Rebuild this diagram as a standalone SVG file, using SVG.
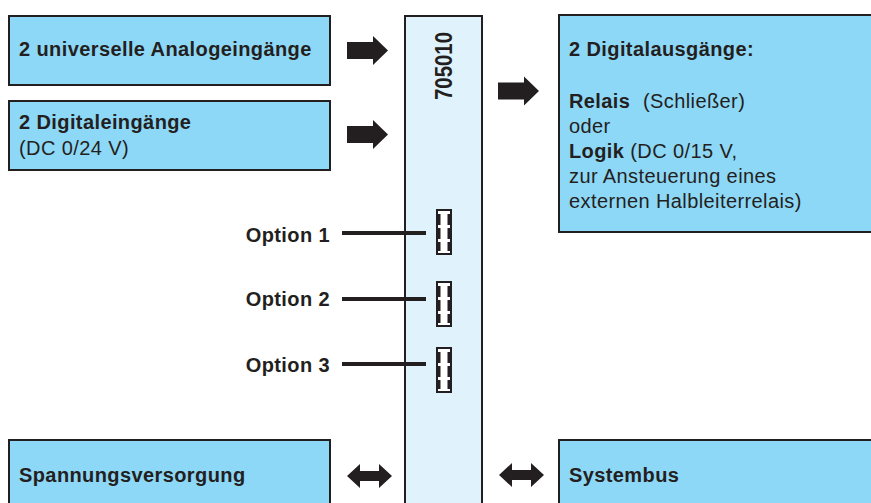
<svg xmlns="http://www.w3.org/2000/svg" xmlns:xlink="http://www.w3.org/1999/xlink" width="871" height="503" viewBox="0 0 871 503">
<style>
.box{fill:#8ed8f7;stroke:#231f20;stroke-width:2}
.bar{fill:#e0f3fc;stroke:#231f20;stroke-width:2}
text{font-family:"Liberation Sans",Arial,sans-serif;font-size:20px;fill:#231f20;letter-spacing:0.4px}
.b{font-weight:bold}
.ar{fill:#231f20}
.ln{stroke:#231f20;stroke-width:4}
</style>
<defs>
<g id="conn">
<rect x="0" y="0" width="16" height="46" fill="#231f20"/>
<rect x="2" y="2" width="12" height="42" fill="#ffffff"/>
<rect x="2" y="5" width="2.5" height="11" fill="#231f20"/>
<rect x="2" y="19" width="2.5" height="11" fill="#231f20"/>
<rect x="2" y="33" width="2.5" height="9" fill="#231f20"/>
<rect x="11.5" y="5" width="2.5" height="11" fill="#231f20"/>
<rect x="11.5" y="19" width="2.5" height="11" fill="#231f20"/>
<rect x="11.5" y="33" width="2.5" height="9" fill="#231f20"/>
</g>
<path id="rarrow" d="M0,-8.5 H26 V-14.5 L41,0 L26,14.5 V8.5 H0 Z"/>
<path id="darrow" d="M0,0 L13,-12 V-5 H32 V-12 L45,0 L32,12 V5 H13 V12 Z"/>
</defs>

<g id="module">
<rect class="bar" x="405" y="16" width="77" height="500"/>
<text class="b" style="font-size:24px;letter-spacing:0" transform="translate(452,100) rotate(-90) scale(0.85,1)">705010</text>
<use xlink:href="#conn" x="436" y="209"/>
<use xlink:href="#conn" x="436" y="281"/>
<use xlink:href="#conn" x="436" y="347"/>
</g>

<g id="analog-in">
<rect class="box" x="9" y="16" width="321" height="69"/>
<text class="b" x="19" y="56">2 universelle Analogeingänge</text>
</g>

<g id="digital-in">
<rect class="box" x="9" y="101" width="321" height="69"/>
<text class="b" x="19" y="129">2 Digitaleingänge</text>
<text x="19" y="155">(DC 0/24 V)</text>
</g>

<g id="digital-out">
<rect class="box" x="559" y="15" width="330" height="217"/>
<text class="b" x="569" y="56">2 Digitalausgänge:</text>
<text x="569" y="108"><tspan class="b">Relais</tspan><tspan x="643">(Schließer)</tspan></text>
<text x="569" y="133">oder</text>
<text x="569" y="158"><tspan class="b">Logik</tspan> (DC 0/15 V,</text>
<text x="569" y="183">zur Ansteuerung eines</text>
<text x="569" y="208">externen Halbleiterrelais)</text>
</g>

<g id="power">
<rect class="box" x="9" y="440" width="321" height="80"/>
<text class="b" x="19" y="482">Spannungsversorgung</text>
</g>

<g id="systembus">
<rect class="box" x="559" y="440" width="330" height="80"/>
<text class="b" x="569" y="482">Systembus</text>
</g>

<g id="option1"><text class="b" x="330" y="242" text-anchor="end">Option 1</text></g>
<g id="option2"><text class="b" x="330" y="306" text-anchor="end">Option 2</text></g>
<g id="option3"><text class="b" x="330" y="372" text-anchor="end">Option 3</text></g>

<g id="connectors">
<use class="ar" xlink:href="#rarrow" x="347" y="50.5"/>
<use class="ar" xlink:href="#rarrow" x="347" y="134.5"/>
<use class="ar" xlink:href="#rarrow" x="498" y="91"/>
<use class="ar" xlink:href="#darrow" x="347" y="476"/>
<use class="ar" xlink:href="#darrow" x="499" y="475"/>
<line class="ln" x1="342" y1="233" x2="426" y2="233"/>
<line class="ln" x1="342" y1="299" x2="426" y2="299"/>
<line class="ln" x1="342" y1="364" x2="426" y2="364"/>
</g>
</svg>
